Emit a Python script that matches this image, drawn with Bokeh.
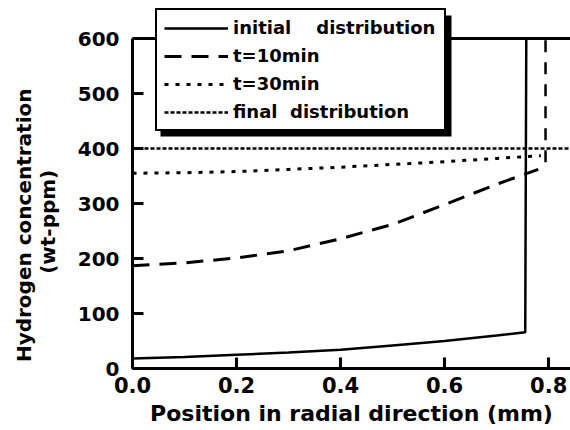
from bokeh.plotting import figure
from bokeh.models import (Range1d, Legend, LegendItem,
                          BoxAnnotation, NumeralTickFormatter, Span)
from bokeh.embed import file_html
from bokeh.resources import INLINE

# ---- data ----
x_initial = [0.0, 0.1, 0.2, 0.3, 0.4, 0.5, 0.6, 0.7, 0.755, 0.757]
y_initial = [18, 21, 25, 29, 34, 42, 50, 60, 66, 600]

x_t10 = [0.0, 0.1, 0.2, 0.3, 0.4, 0.5, 0.6, 0.7, 0.78]
y_t10 = [187, 192, 201, 214, 236, 262, 298, 335, 362]

x_t30 = [0.0, 0.1, 0.2, 0.3, 0.4, 0.5, 0.6, 0.7, 0.785]
y_t30 = [355, 356, 358, 362, 366, 371, 376, 382, 387]

x_final = [0.0, 0.842]
y_final = [400, 400]

x_surface = [0.794, 0.794]
y_surface = [375, 600]

x_ticks = [0.0, 0.2, 0.4, 0.6, 0.8]
y_ticks = [0, 100, 200, 300, 400, 500, 600]

NB = "\u00a0"
labels = ["initial" + NB * 4 + "distribution", "t=10min", "t=30min",
          "final" + NB * 2 + "distribution"]

FONT = "DejaVu Sans"

X_END, Y_END = 0.842, 660
p = figure(width=570, height=430, x_range=Range1d(0, X_END), y_range=Range1d(0, Y_END),
           output_backend="svg", toolbar_location=None,
           min_border_left=132, min_border_right=0, min_border_top=5, min_border_bottom=62)
p.outline_line_color = None
p.xgrid.visible = False
p.ygrid.visible = False
p.background_fill_color = "white"

r1 = p.line(x_initial, y_initial, line_color="black", line_width=2.5)
r2 = p.line(x_t10, y_t10, line_color="black", line_width=3, line_dash="17 10")
r3 = p.line(x_t30, y_t30, line_color="black", line_width=3, line_dash="4 7")
r4 = p.line(x_final, y_final, line_color="black", line_width=2.5, line_dash="4 2")
p.line(x_surface, y_surface, line_color="black", line_width=2.5, line_dash="12 10")

for ax in (p.xaxis[0], p.yaxis[0]):
    ax.axis_line_width = 3
    ax.major_tick_line_width = 3
    ax.major_tick_in = 11
    ax.major_tick_out = 0
    ax.minor_tick_line_color = None
    ax.major_label_text_font = FONT
    ax.major_label_text_font_style = "bold"
    ax.major_label_text_color = "black"
    ax.axis_label_text_font = FONT
    ax.axis_label_text_font_style = "bold"
    ax.axis_label_text_color = "black"

p.xaxis.ticker = x_ticks
p.xaxis.formatter = NumeralTickFormatter(format="0.0")
p.xaxis.major_label_text_font_size = "21px"
p.xaxis.major_label_standoff = 8
p.xaxis.axis_label = "Position in radial direction (mm)"
p.xaxis.axis_label_text_font_size = "22px"
p.xaxis.axis_label_standoff = 5

p.yaxis.ticker = y_ticks
p.yaxis.bounds = (0, 600)
p.yaxis.major_label_text_font_size = "20px"
p.yaxis.major_label_standoff = 13
p.yaxis.axis_label = "Hydrogen concentration" + NB * 11 + "\n(wt-ppm)" + NB * 10
p.yaxis.axis_label_text_font_size = "20px"
p.yaxis.axis_label_text_line_height = 1.0
p.yaxis.axis_label_standoff = 15

# top frame line at 600
p.add_layout(Span(location=600, dimension="width", line_color="black", line_width=3))

# legend drop shadow (pixel box of the reference converted to data units)
def px_x(px):
    return (px - 132) / 438 * X_END

def px_y(py):
    return (368 - py) / 363 * Y_END

shadow = BoxAnnotation(left=px_x(160), right=px_x(451), top=px_y(15), bottom=px_y(136),
                       fill_color="black", fill_alpha=1.0, line_color=None)
p.add_layout(shadow)

legend = Legend(items=[LegendItem(label=labels[0], renderers=[r1]),
                       LegendItem(label=labels[1], renderers=[r2]),
                       LegendItem(label=labels[2], renderers=[r3]),
                       LegendItem(label=labels[3], renderers=[r4])],
                location=(23, 237))
legend.label_text_font = FONT
legend.label_text_font_style = "bold"
legend.label_text_font_size = "18px"
legend.label_text_color = "black"
legend.label_height = 20
legend.label_width = 204
legend.glyph_height = 20
legend.glyph_width = 64
legend.label_standoff = 5
legend.spacing = 7
legend.padding = 7
legend.margin = 0
legend.border_line_color = "black"
legend.border_line_alpha = 1.0
legend.border_line_width = 2
legend.background_fill_color = "white"
legend.background_fill_alpha = 1.0
p.add_layout(legend)

open("out.html", "w").write(file_html(p, INLINE))
